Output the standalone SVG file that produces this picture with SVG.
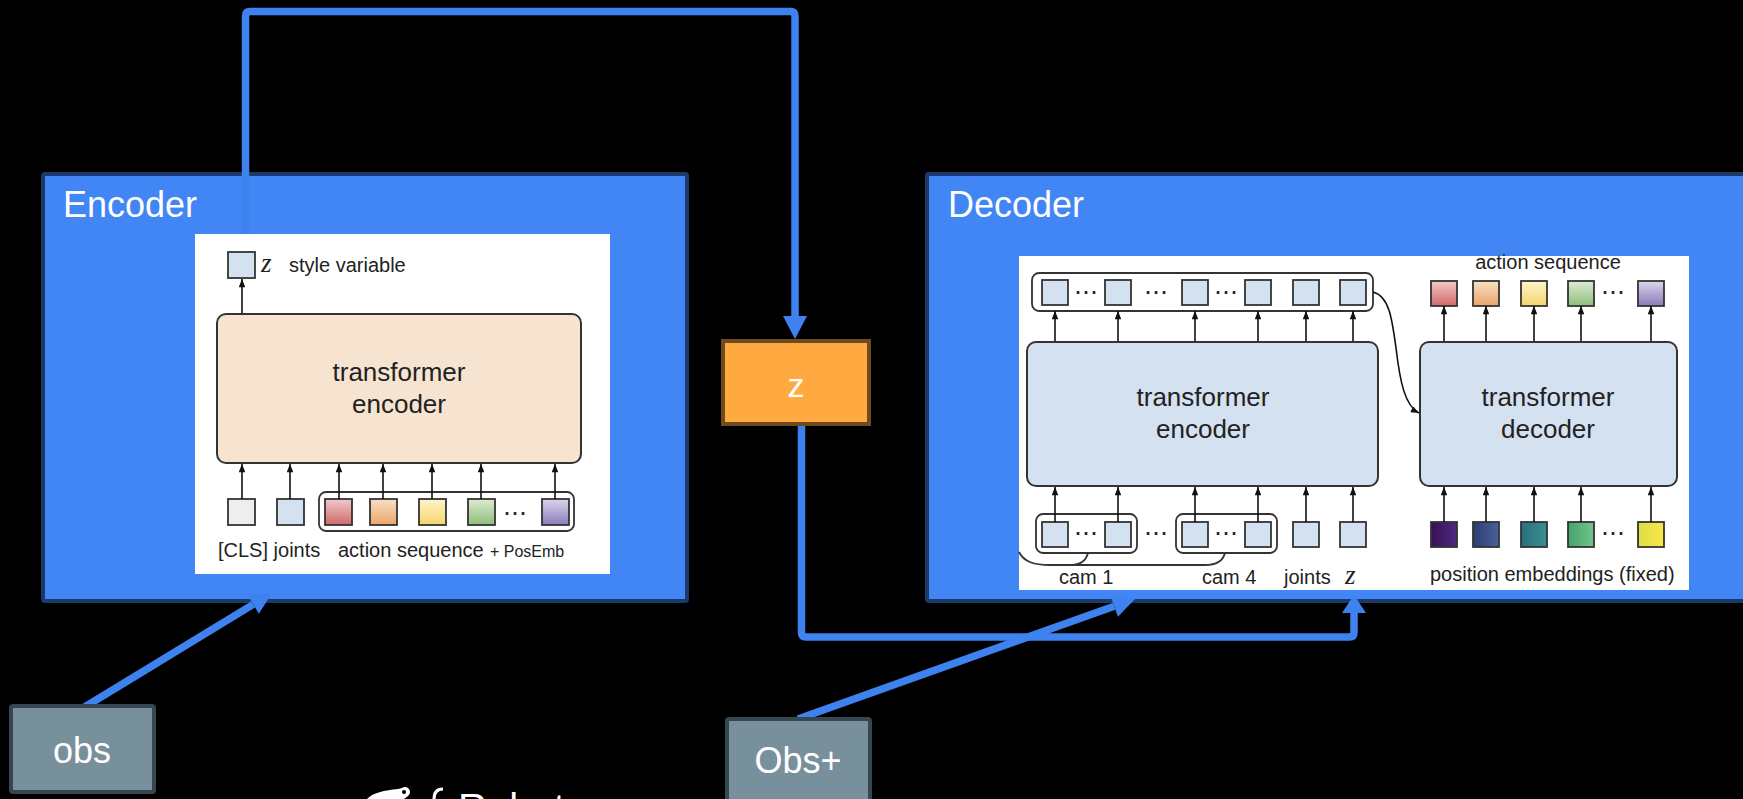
<svg xmlns="http://www.w3.org/2000/svg" width="1743" height="799" viewBox="0 0 1743 799">
  <style>
    .stage { fill: #4285f4; stroke: #1b3a6b; stroke-width: 4; }
    .stage-title { font-family: "Liberation Sans", Arial, sans-serif; font-size: 36px; fill: #ffffff; }
    .panel { fill: #ffffff; }
    .sq { stroke: #333333; stroke-width: 1.8; }
    .tok { fill: #d4e1f1; }
    .group { fill: none; stroke: #333333; stroke-width: 1.8; }
    .tf { stroke: #333333; stroke-width: 2; }
    .tf-text { font-family: "Liberation Sans", Arial, sans-serif; font-size: 26px; fill: #222222; text-anchor: middle; }
    .lbl { font-family: "Liberation Sans", Arial, sans-serif; font-size: 20px; fill: #222222; }
    .math { font-family: "Liberation Serif", "Times New Roman", serif; font-style: italic; font-size: 27px; fill: #222222; }
    .dots { font-family: "DejaVu Sans", sans-serif; font-size: 24px; fill: #222222; text-anchor: middle; }
    .ar { stroke: #111111; stroke-width: 1.6; fill: none; marker-end: url(#tip); }
    .conn { fill: none; stroke: #3e82ef; stroke-width: 7.5; stroke-linejoin: round; }
    .conn-head { fill: #3e82ef; }
    .io { fill: #78909c; stroke: #37474f; stroke-width: 4; }
    .io-text { font-family: "Liberation Sans", Arial, sans-serif; font-size: 36px; fill: #ffffff; text-anchor: middle; }
    .latent { fill: #ffaa40; stroke: #6e4a1c; stroke-width: 4; }
  </style>
  <defs>
    <marker id="tip" viewBox="0 0 10 8" refX="10" refY="4" markerWidth="9" markerHeight="6.5" markerUnits="userSpaceOnUse" orient="auto">
      <path d="M0,0 L10,4 L0,8 z" fill="#111111"/>
    </marker>
    <!-- action token colours: light top, saturated bottom -->
    <linearGradient id="gRed" x1="0" y1="0" x2="0" y2="1"><stop offset="0" stop-color="#f2c9c9"/><stop offset="1" stop-color="#d06868"/></linearGradient>
    <linearGradient id="gOrange" x1="0" y1="0" x2="0" y2="1"><stop offset="0" stop-color="#f9e0c6"/><stop offset="1" stop-color="#eaa468"/></linearGradient>
    <linearGradient id="gYellow" x1="0" y1="0" x2="0" y2="1"><stop offset="0" stop-color="#fff5cc"/><stop offset="1" stop-color="#f4d46c"/></linearGradient>
    <linearGradient id="gGreen" x1="0" y1="0" x2="0" y2="1"><stop offset="0" stop-color="#dcebd3"/><stop offset="1" stop-color="#8fbd7a"/></linearGradient>
    <linearGradient id="gPurple" x1="0" y1="0" x2="0" y2="1"><stop offset="0" stop-color="#dcd5ec"/><stop offset="1" stop-color="#8a7bb9"/></linearGradient>
    <!-- fixed positional embeddings (viridis ramp) -->
    <linearGradient id="p1" x1="0" y1="0" x2="1" y2="0"><stop offset="0" stop-color="#3a0f55"/><stop offset="1" stop-color="#4b2a82"/></linearGradient>
    <linearGradient id="p2" x1="0" y1="0" x2="1" y2="0"><stop offset="0" stop-color="#2f3d72"/><stop offset="1" stop-color="#48609a"/></linearGradient>
    <linearGradient id="p3" x1="0" y1="0" x2="1" y2="0"><stop offset="0" stop-color="#2a6f80"/><stop offset="1" stop-color="#3a8e90"/></linearGradient>
    <linearGradient id="p4" x1="0" y1="0" x2="1" y2="0"><stop offset="0" stop-color="#44a46a"/><stop offset="1" stop-color="#74c48a"/></linearGradient>
    <linearGradient id="p5" x1="0" y1="0" x2="1" y2="0"><stop offset="0" stop-color="#dcdc48"/><stop offset="1" stop-color="#fbe84a"/></linearGradient>
  </defs>

  <rect width="1743" height="799" fill="#000000"/>

  <!-- stage containers -->
  <g id="encoder-stage">
    <rect class="stage" x="43" y="174" width="644" height="427" rx="2"/>
    <text class="stage-title" x="63" y="217">Encoder</text>
  </g>
  <g id="decoder-stage">
    <rect class="stage" x="927" y="174" width="840" height="427" rx="2"/>
    <text class="stage-title" x="948" y="217">Decoder</text>
  </g>

  <!-- connectors -->
  <g id="connectors">
    <path class="conn" d="M245.5,240 L245.5,16 Q245.5,11.5 250,11.5 L790.5,11.5 Q795,11.5 795,16 L795,318"/>
    <polygon class="conn-head" points="783,316 807,316 795,339"/>

    <path class="conn" d="M801.5,420 L801.5,632.5 Q801.5,637 806,637 L1349.5,637 Q1354,637 1354,632.5 L1354,611"/>
    <polygon class="conn-head" points="1342,613 1366,613 1354,595"/>

    <path class="conn" d="M83,708 L253.2,604.4"/>
    <polygon class="conn-head" points="272,593 258.9,613.8 247.5,595"/>

    <path class="conn" d="M798,719 L1114.2,606.3"/>
    <polygon class="conn-head" points="1135,599 1117.9,616.7 1110.6,595.9"/>
  </g>

  <!-- CVAE encoder figure -->
  <g id="encoder-figure">
    <rect class="panel" x="195" y="234" width="415" height="340"/>
    <rect class="sq tok" x="228" y="252" width="27" height="26"/>
    <text class="math" x="261" y="272">z</text>
    <text class="lbl" x="289" y="272">style variable</text>
    <line class="ar" x1="242" y1="314" x2="242" y2="279"/>

    <rect class="tf" x="217" y="314" width="364" height="149" rx="9" fill="#f7e4d0"/>
    <text class="tf-text" x="399" y="381">transformer</text>
    <text class="tf-text" x="399" y="413">encoder</text>

    <rect class="group" x="319" y="492" width="255" height="39" rx="7"/>
    <rect class="sq" x="228" y="499" width="27" height="26" fill="#eeeeee"/>
    <rect class="sq tok" x="277" y="499" width="27" height="26"/>
    <rect class="sq" x="325" y="499" width="27" height="26" fill="url(#gRed)"/>
    <rect class="sq" x="370" y="499" width="27" height="26" fill="url(#gOrange)"/>
    <rect class="sq" x="419" y="499" width="27" height="26" fill="url(#gYellow)"/>
    <rect class="sq" x="468" y="499" width="27" height="26" fill="url(#gGreen)"/>
    <text class="dots" x="515" y="521">⋯</text>
    <rect class="sq" x="542" y="499" width="27" height="26" fill="url(#gPurple)"/>

    <line class="ar" x1="242" y1="499" x2="242" y2="464"/>
    <line class="ar" x1="290" y1="499" x2="290" y2="464"/>
    <line class="ar" x1="339" y1="499" x2="339" y2="464"/>
    <line class="ar" x1="383" y1="499" x2="383" y2="464"/>
    <line class="ar" x1="432" y1="499" x2="432" y2="464"/>
    <line class="ar" x1="481" y1="499" x2="481" y2="464"/>
    <line class="ar" x1="555" y1="499" x2="555" y2="464"/>

    <text class="lbl" x="218" y="557">[CLS] joints</text>
    <text class="lbl" x="338" y="557">action sequence</text>
    <text class="lbl" x="490" y="557" style="font-size:16px">+ PosEmb</text>
  </g>

  <!-- CVAE decoder figure -->
  <g id="decoder-figure">
    <rect class="panel" x="1019" y="256" width="670" height="334"/>

    <!-- encoder output tokens -->
    <rect class="group" x="1032" y="273" width="341" height="38" rx="7"/>
    <rect class="sq tok" x="1042" y="280" width="26" height="25"/>
    <text class="dots" x="1086" y="300">⋯</text>
    <rect class="sq tok" x="1105" y="280" width="26" height="25"/>
    <text class="dots" x="1156" y="300">⋯</text>
    <rect class="sq tok" x="1182" y="280" width="26" height="25"/>
    <text class="dots" x="1226" y="300">⋯</text>
    <rect class="sq tok" x="1245" y="280" width="26" height="25"/>
    <rect class="sq tok" x="1293" y="280" width="26" height="25"/>
    <rect class="sq tok" x="1340" y="280" width="26" height="25"/>

    <line class="ar" x1="1055" y1="342" x2="1055" y2="311"/>
    <line class="ar" x1="1118" y1="342" x2="1118" y2="311"/>
    <line class="ar" x1="1195" y1="342" x2="1195" y2="311"/>
    <line class="ar" x1="1258" y1="342" x2="1258" y2="311"/>
    <line class="ar" x1="1306" y1="342" x2="1306" y2="311"/>
    <line class="ar" x1="1353" y1="342" x2="1353" y2="311"/>

    <rect class="tf" x="1027" y="342" width="351" height="144" rx="9" fill="#d4e1f1"/>
    <text class="tf-text" x="1203" y="406">transformer</text>
    <text class="tf-text" x="1203" y="438">encoder</text>

    <!-- encoder inputs -->
    <rect class="group" x="1036" y="514" width="101" height="39" rx="7"/>
    <rect class="group" x="1176" y="514" width="101" height="39" rx="7"/>
    <rect class="sq tok" x="1042" y="522" width="26" height="25"/>
    <text class="dots" x="1086" y="541">⋯</text>
    <rect class="sq tok" x="1105" y="522" width="26" height="25"/>
    <text class="dots" x="1156" y="541">⋯</text>
    <rect class="sq tok" x="1182" y="522" width="26" height="25"/>
    <text class="dots" x="1226" y="541">⋯</text>
    <rect class="sq tok" x="1245" y="522" width="26" height="25"/>
    <rect class="sq tok" x="1293" y="522" width="26" height="25"/>
    <rect class="sq tok" x="1340" y="522" width="26" height="25"/>

    <line class="ar" x1="1055" y1="522" x2="1055" y2="487"/>
    <line class="ar" x1="1118" y1="522" x2="1118" y2="487"/>
    <line class="ar" x1="1195" y1="522" x2="1195" y2="487"/>
    <line class="ar" x1="1258" y1="522" x2="1258" y2="487"/>
    <line class="ar" x1="1306" y1="522" x2="1306" y2="487"/>
    <line class="ar" x1="1353" y1="522" x2="1353" y2="487"/>

    <!-- camera braces -->
    <path class="group" d="M1019,552 C1024,562 1034,565 1050,565 L1205,565 C1216,565 1223,561 1225,553"/>
    <path class="group" d="M1060,565 L1070,565 C1080,565 1086,561 1088,553"/>

    <text class="lbl" x="1059" y="584">cam 1</text>
    <text class="lbl" x="1202" y="584">cam 4</text>
    <text class="lbl" x="1284" y="584">joints</text>
    <text class="math" x="1345" y="584">z</text>

    <!-- memory into decoder -->
    <path class="ar" d="M1373,292 C1389,296 1392,318 1396,348 C1400,382 1405,406 1419,413"/>

    <!-- transformer decoder -->
    <text class="lbl" x="1548" y="269" text-anchor="middle">action sequence</text>
    <rect class="sq" x="1431" y="281" width="26" height="25" fill="url(#gRed)"/>
    <rect class="sq" x="1473" y="281" width="26" height="25" fill="url(#gOrange)"/>
    <rect class="sq" x="1521" y="281" width="26" height="25" fill="url(#gYellow)"/>
    <rect class="sq" x="1568" y="281" width="26" height="25" fill="url(#gGreen)"/>
    <text class="dots" x="1613" y="300">⋯</text>
    <rect class="sq" x="1638" y="281" width="26" height="25" fill="url(#gPurple)"/>

    <line class="ar" x1="1444" y1="342" x2="1444" y2="306"/>
    <line class="ar" x1="1486" y1="342" x2="1486" y2="306"/>
    <line class="ar" x1="1534" y1="342" x2="1534" y2="306"/>
    <line class="ar" x1="1581" y1="342" x2="1581" y2="306"/>
    <line class="ar" x1="1651" y1="342" x2="1651" y2="306"/>

    <rect class="tf" x="1420" y="342" width="257" height="144" rx="9" fill="#d4e1f1"/>
    <text class="tf-text" x="1548" y="406">transformer</text>
    <text class="tf-text" x="1548" y="438">decoder</text>

    <rect class="sq" x="1431" y="522" width="26" height="25" fill="url(#p1)"/>
    <rect class="sq" x="1473" y="522" width="26" height="25" fill="url(#p2)"/>
    <rect class="sq" x="1521" y="522" width="26" height="25" fill="url(#p3)"/>
    <rect class="sq" x="1568" y="522" width="26" height="25" fill="url(#p4)"/>
    <text class="dots" x="1613" y="541">⋯</text>
    <rect class="sq" x="1638" y="522" width="26" height="25" fill="url(#p5)"/>

    <line class="ar" x1="1444" y1="522" x2="1444" y2="487"/>
    <line class="ar" x1="1486" y1="522" x2="1486" y2="487"/>
    <line class="ar" x1="1534" y1="522" x2="1534" y2="487"/>
    <line class="ar" x1="1581" y1="522" x2="1581" y2="487"/>
    <line class="ar" x1="1651" y1="522" x2="1651" y2="487"/>

    <text class="lbl" x="1430" y="581">position embeddings (fixed)</text>
  </g>

  <!-- latent z -->
  <g id="z-node">
    <rect class="latent" x="723" y="341" width="146" height="83"/>
    <text x="796" y="397" font-family="'Liberation Sans', Arial, sans-serif" font-size="34" fill="#ffffff" text-anchor="middle">z</text>
  </g>

  <!-- observation inputs -->
  <g id="obs-node">
    <rect class="io" x="11" y="706" width="143" height="86" rx="2"/>
    <text class="io-text" x="82" y="763">obs</text>
  </g>
  <g id="obs-plus-node">
    <rect class="io" x="727" y="719" width="143" height="90" rx="2"/>
    <text class="io-text" x="798" y="773">Obs+</text>
  </g>

  <!-- logo, cut by the lower edge -->
  <g id="logo" fill="#ffffff">
    <path d="M367,799 C372,793 385,790 398,789 L402,788 A5,5 0 1 1 408,796 L404,799 Z"/>
    <circle cx="404" cy="792" r="2" fill="#000000"/>
    <path d="M434,799 C434,792 437,789 443,789" fill="none" stroke="#ffffff" stroke-width="3"/>
    <text x="458" y="822" font-family="'Liberation Sans', Arial, sans-serif" font-size="40">Robot</text>
  </g>
</svg>
